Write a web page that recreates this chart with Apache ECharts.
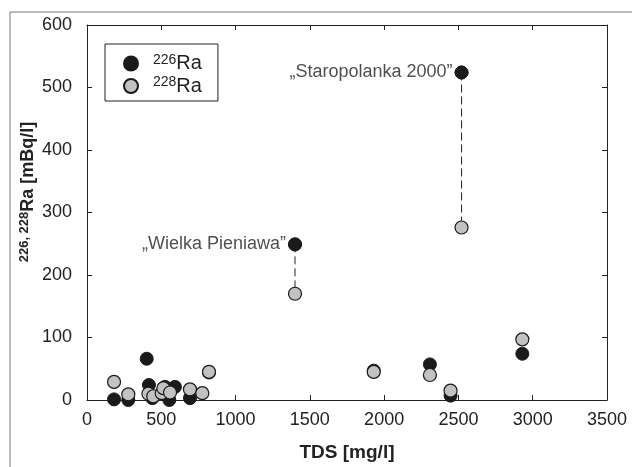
<!DOCTYPE html>
<html>
<head>
<meta charset="utf-8">
<script src="https://cdn.jsdelivr.net/npm/echarts@6/dist/echarts.min.js"></script>
<style>
  html, body { margin: 0; padding: 0; background: #fff; }
  #chart { width: 632px; height: 467px; }
</style>
</head>
<body>
<div id="chart"></div>
<script>
// values: [TDS mg/l, activity mBq/l]
const ra226 = [
    [182, 1], [278, 0], [402, 66], [417, 24], [440, 3], [525, 21], [554, 0],
    [592, 21], [693, 3], [821, 44], [1400, 249], [1930, 47], [2308, 57],
    [2447, 7], [2521, 524], [2930, 74]
];
const ra228 = [
    [182, 29], [278, 9], [413, 10], [446, 6], [503, 11], [514, 19], [559, 12],
    [693, 17], [776, 11], [821, 45], [1400, 170], [1930, 45], [2308, 40],
    [2447, 15], [2521, 276], [2930, 97]
];
// labelled springs, joined by a dashed line from 226Ra down to 228Ra
const springNames = ['\u201EWielka Pieniawa\u201D', '\u201EStaropolanka 2000\u201D'];
const springX = [1400, 2521];
const spring226 = [249, 524];
const spring228 = [170, 276];

const xTicks = [0, 500, 1000, 1500, 2000, 2500, 3000, 3500];
const yTicks = [0, 100, 200, 300, 400, 500, 600];

const FONT = "'Liberation Sans Narrow', 'Arial Narrow', 'Liberation Sans', sans-serif";
const INK = '#1a1a1a';
const GREY = '#c2c2c2';

const chart = echarts.init(document.getElementById('chart'));

// dashed connectors: one segment per spring, broken with '-'
const connector = [];
springX.forEach((x, i) => {
    if (i) connector.push(['-', '-']);
    connector.push([x, spring226[i]], [x, spring228[i]]);
});

const axisCommon = {
    axisLine: { show: true, onZero: false, lineStyle: { color: '#222', width: 1 } },
    axisTick: { show: true, inside: true, length: 5, lineStyle: { color: '#222' } },
    splitLine: { show: false },
};

chart.setOption({
    animation: false,
    textStyle: { fontFamily: FONT },
    grid: { left: 87, top: 25, right: 25, bottom: 67 },
    xAxis: [{
        ...axisCommon,
        type: 'value', min: xTicks[0], max: xTicks[xTicks.length - 1], interval: 500,
        axisLabel: { color: '#222', fontSize: 18, fontFamily: FONT, margin: 11, formatter: (v) => String(v) },
        name: 'TDS [mg/l]', nameLocation: 'middle', nameGap: 43,
        nameTextStyle: { color: '#222', fontSize: 19, fontWeight: 'bold', fontFamily: FONT },
    }, {
        ...axisCommon,
        type: 'value', position: 'top', min: 0, max: 3500, interval: 500,
        axisLabel: { show: false },
    }],
    yAxis: [{
        ...axisCommon,
        type: 'value', min: yTicks[0], max: yTicks[yTicks.length - 1], interval: 100,
        axisLabel: { color: '#222', fontSize: 18, fontFamily: FONT, margin: 15, formatter: (v) => String(v) },
    }, {
        ...axisCommon,
        type: 'value', position: 'right', min: 0, max: 600, interval: 100,
        axisLabel: { show: false },
    }],
    legend: {
        left: 105, top: 44, orient: 'vertical',
        data: ['226', '228'],
        icon: 'circle', itemWidth: 14, itemHeight: 14, itemGap: 2,
        padding: [9, 16, 5, 18],
        borderColor: '#222', borderWidth: 1, borderRadius: 0,
        formatter: (name) => '{sup|' + name + '}{base|Ra}',
        textStyle: {
            color: '#222', fontFamily: FONT,
            rich: {
                sup: { fontSize: 14, fontFamily: FONT, color: '#222', padding: [0, 0, 7, 10] },
                base: { fontSize: 20, fontFamily: FONT, color: '#222' },
            },
        },
    },
    graphic: [
        // outer frame of the figure
        { type: 'line', shape: { x1: 10, y1: 12, x2: 632, y2: 12 }, style: { stroke: '#777', lineWidth: 1 } },
        { type: 'line', shape: { x1: 10, y1: 12, x2: 10, y2: 467 }, style: { stroke: '#777', lineWidth: 1 } },
        {
            type: 'text', x: 28, y: 192, rotation: Math.PI / 2,
            style: {
                text: '{sup|226, 228}{base|Ra [mBq/l]}',
                align: 'center', verticalAlign: 'middle', fill: '#222',
                rich: {
                    sup: { fontSize: 13, fontWeight: 'bold', fontFamily: FONT, fill: '#222', padding: [0, 0, 7, 0] },
                    base: { fontSize: 18, fontWeight: 'bold', fontFamily: FONT, fill: '#222' },
                },
            },
        },
    ],
    series: [
        {
            name: 'connector', type: 'line', data: connector, symbol: 'none', z: 1,
            silent: true, legendHoverLink: false,
            lineStyle: { color: '#222', width: 1, type: [8, 4] },
        },
        {
            name: '226', type: 'scatter', data: ra226, symbolSize: 13, z: 3,
            itemStyle: { color: INK, borderColor: INK, borderWidth: 1, opacity: 1 },
        },
        {
            name: '228', type: 'scatter', data: ra228, symbolSize: 13, z: 4,
            itemStyle: { color: GREY, borderColor: INK, borderWidth: 1.2, opacity: 1 },
        },
        {
            // black markers carrying the spring names
            name: 'labels', type: 'scatter', z: 5, symbolSize: 13,
            data: springX.map((x, i) => ({ value: [x, spring226[i]], label: { formatter: springNames[i] } })),
            itemStyle: { color: INK, borderColor: INK, borderWidth: 1 },
            label: { show: true, position: 'left', distance: 2, color: '#222', fontSize: 18, fontFamily: FONT },
        },
    ],
});
</script>
</body>
</html>
